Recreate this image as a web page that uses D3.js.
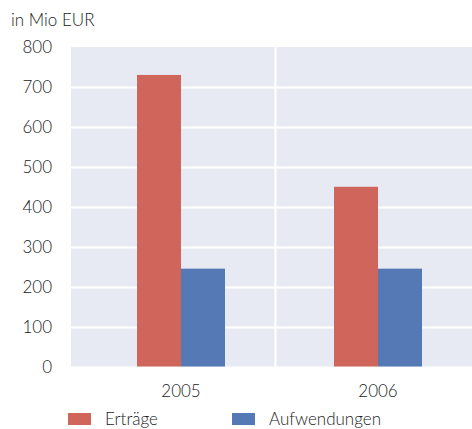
<!DOCTYPE html>
<html>
<head>
<meta charset="utf-8">
<script src="https://cdn.jsdelivr.net/npm/d3@7"></script>
<style>
  html, body { margin: 0; padding: 0; background: #fff; }
  svg text { font-family: Lato, "Open Sans", sans-serif; font-weight: 300; fill: #222; }
</style>
</head>
<body>
<div id="chart"></div>
<script>
  // Chart data.
  var years  = ['2005', '2006'];
  var series = ['Erträge', 'Aufwendungen'];
  var ertraege     = [730, 450];
  var aufwendungen = [245, 245];
  var yTicks = [0, 100, 200, 300, 400, 500, 600, 700, 800];
  var colors = ['#d0665b', '#5479b4'];

(function() { // IIFE to keep layout vars out of window.

  'use strict'

  var width  = 472;
  var height = 429;

  // Plot box.
  var plotLeft = 71, plotTop = 47, plotBottom = 366.5, plotRight = 472;

  var svg = d3.select('#chart')
              .append('svg')
              .attr('width', width)
              .attr('height', height);

  var y = d3.scaleLinear().domain([0, 800]).range([plotBottom, plotTop]);

  var step = 197;
  var x0 = d3.scaleBand()
             .domain(years)
             .range([plotLeft + 110 - step / 2, plotLeft + 110 + step * 1.5])
             .paddingInner(0);

  var bw = x0.bandwidth();
  var x1 = d3.scaleBand()
             .domain(series)
             .range([bw / 2 - 44, bw / 2 + 44]);

  // Background.
  svg.append('rect')
     .attr('x', plotLeft)
     .attr('y', plotTop)
     .attr('width', plotRight - plotLeft)
     .attr('height', plotBottom - plotTop)
     .style('fill', '#e8eaf3');

  // Horizontal gridlines.
  svg.append('g')
     .selectAll('line')
     .data(yTicks.slice(1, -1))
     .enter().append('line')
     .attr('x1', plotLeft)
     .attr('x2', plotRight)
     .attr('y1', function(d) { return Math.round(y(d)) + 0.5; })
     .attr('y2', function(d) { return Math.round(y(d)) + 0.5; })
     .style('stroke', '#fff')
     .style('stroke-width', 2);

  // Vertical separator between the years.
  var sep = x0(years[1]) - 4;
  svg.append('line')
     .attr('x1', sep).attr('x2', sep)
     .attr('y1', plotTop).attr('y2', plotBottom)
     .style('stroke', '#fff')
     .style('stroke-width', 2);

  // Bars.
  var rows = years.map(function(yr, i) {
    return { year: yr, values: [ertraege[i], aufwendungen[i]] };
  });

  var groups = svg.append('g')
                  .selectAll('g')
                  .data(rows)
                  .enter().append('g')
                  .attr('transform', function(d) { return 'translate(' + x0(d.year) + ',0)'; });

  groups.selectAll('rect')
        .data(function(d) {
          return d.values.map(function(v, j) { return { key: series[j], value: v, color: colors[j] }; });
        })
        .enter().append('rect')
        .attr('x', function(d) { return x1(d.key); })
        .attr('width', x1.bandwidth())
        .attr('y', function(d) { return y(d.value); })
        .attr('height', function(d) { return plotBottom - y(d.value); })
        .style('fill', function(d) { return d.color; });

  // Y axis labels.
  svg.append('g')
     .selectAll('text')
     .data(yTicks)
     .enter().append('text')
     .attr('x', 52)
     .attr('y', function(d) { return y(d) + 6; })
     .attr('text-anchor', 'end')
     .style('font-size', '17px')
     .text(function(d) { return d; });

  // X axis labels.
  svg.append('g')
     .selectAll('text')
     .data(years)
     .enter().append('text')
     .attr('x', function(d) { return x0(d) + bw / 2; })
     .attr('y', 397)
     .attr('text-anchor', 'middle')
     .style('font-size', '17px')
     .text(function(d) { return d; });

  // Unit label.
  svg.append('text')
     .attr('x', 11)
     .attr('y', 26)
     .style('font-size', '17px')
     .text('in Mio EUR');

  // Legend.
  var legendX = [68, 232];
  var legend = svg.append('g')
                  .selectAll('g')
                  .data(series)
                  .enter().append('g')
                  .attr('transform', function(d, i) { return 'translate(' + legendX[i] + ',413)'; });

  legend.append('rect')
        .attr('width', 23)
        .attr('height', 12)
        .style('fill', function(d, i) { return colors[i]; });

  legend.append('text')
        .attr('x', 37)
        .attr('y', 12)
        .style('font-size', '17px')
        .text(function(d) { return d; });

})(); // End of IIFE
</script>
</body>
</html>
